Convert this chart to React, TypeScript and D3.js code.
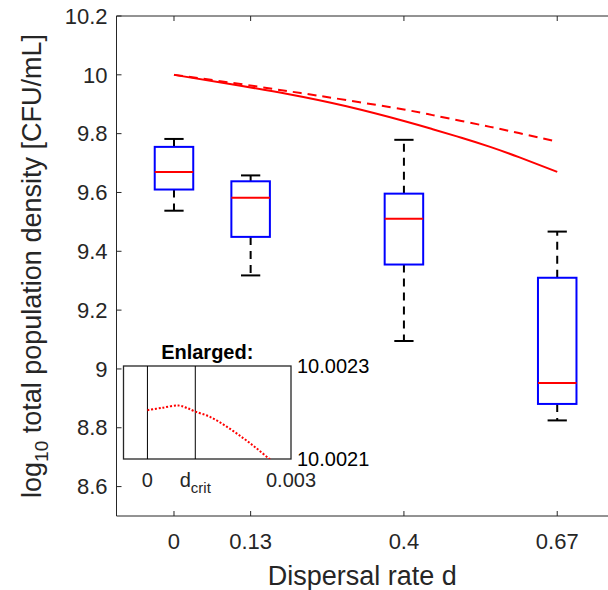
import React from "react";
import * as d3 from "d3";

// ---- data ----
const boxPositions = [0, 2 / 15, 6 / 15, 10 / 15];
const xTickLabels = ["0", "0.13", "0.4", "0.67"];
const whiskerLo = [9.538, 9.318, 9.095, 8.825];
const q1 = [9.61, 9.449, 9.355, 8.881];
const medians = [9.67, 9.582, 9.511, 8.952];
const q3 = [9.755, 9.638, 9.596, 9.31];
const whiskerHi = [9.782, 9.658, 9.779, 9.467];

const yTicks = [8.6, 8.8, 9, 9.2, 9.4, 9.6, 9.8, 10, 10.2];
const yTickLabels = ["8.6", "8.8", "9", "9.2", "9.4", "9.6", "9.8", "10", "10.2"];

const lineD = [0, 0.1, 0.2, 0.3, 0.4, 0.45, 0.5, 0.55, 0.6, 0.6667];
const solidV = [10.0, 9.968, 9.934, 9.893, 9.843, 9.815, 9.786, 9.755, 9.72, 9.67];
const dashedV = [10.0, 9.973, 9.944, 9.914, 9.882, 9.863, 9.843, 9.823, 9.802, 9.773];

const insetD = [0, 0.0003, 0.00065, 0.00082, 0.001, 0.0013, 0.00165, 0.002, 0.00228, 0.00255, 0.0027];
const insetV = [10.002205, 10.00221, 10.002215, 10.00221, 10.002202, 10.002191, 10.00217, 10.002145, 10.002123, 10.0021, 10.002088];
const insetVLines = [0, 0.001];
const insetYLabels = ["10.0023", "10.0021"];
const insetYVals = [10.0023, 10.0021];

const FONT = "'Liberation Sans', Arial, Helvetica, sans-serif";
const TXT = "#262626";

export default function App() {
  const x = d3.scaleLinear().domain([-0.1, 0.755]).range([116.5, 608]);
  const y = d3.scaleLinear().domain([8.5, 10.2]).range([516, 16]);
  const [x0, x1] = x.range();
  const [yb, yt] = y.range();

  const ix = d3.scaleLinear().domain([-0.0005, 0.003]).range([123.5, 291]);
  const iy = d3.scaleLinear().domain([10.0021, 10.0023]).range([459, 366]);

  const boxW = 0.067;
  const capW = boxW / 2;

  const line = d3
    .line<[number, number]>()
    .x((p) => x(p[0]))
    .y((p) => y(p[1]))
    .curve(d3.curveNatural);
  const iline = d3
    .line<[number, number]>()
    .x((p) => ix(p[0]))
    .y((p) => iy(p[1]))
    .curve(d3.curveCatmullRom);

  const tickLen = 5;

  return (
    <svg
      width={608}
      height={590}
      style={{ position: "absolute", left: 0, top: 0, background: "#fff" }}
      fontFamily={FONT}
    >
      <defs>
        <clipPath id="insetClip">
          <rect x={ix.range()[0]} y={iy.range()[1]} width={ix.range()[1] - ix.range()[0]} height={iy.range()[0] - iy.range()[1]} />
        </clipPath>
      </defs>
      <rect width={608} height={590} fill="#fff" />

      {/* boxes */}
      {boxPositions.map((p, i) => (
        <g key={i}>
          <line x1={x(p)} x2={x(p)} y1={y(q3[i])} y2={y(whiskerHi[i])} stroke="#000" strokeWidth={2} strokeDasharray="8,6" />
          <line x1={x(p)} x2={x(p)} y1={y(q1[i])} y2={y(whiskerLo[i])} stroke="#000" strokeWidth={2} strokeDasharray="8,6" />
          <line x1={x(p - capW / 2)} x2={x(p + capW / 2)} y1={y(whiskerHi[i])} y2={y(whiskerHi[i])} stroke="#000" strokeWidth={2} />
          <line x1={x(p - capW / 2)} x2={x(p + capW / 2)} y1={y(whiskerLo[i])} y2={y(whiskerLo[i])} stroke="#000" strokeWidth={2} />
          <rect
            x={x(p - boxW / 2)}
            y={y(q3[i])}
            width={x(p + boxW / 2) - x(p - boxW / 2)}
            height={y(q1[i]) - y(q3[i])}
            fill="none"
            stroke="#0000ff"
            strokeWidth={2}
          />
          <line x1={x(p - boxW / 2)} x2={x(p + boxW / 2)} y1={y(medians[i])} y2={y(medians[i])} stroke="#ff0000" strokeWidth={2} />
        </g>
      ))}

      {/* model lines */}
      <path d={line(lineD.map((d, i) => [d, solidV[i]]) as [number, number][]) || ""} fill="none" stroke="#ff0000" strokeWidth={2} />
      <path
        d={line(lineD.map((d, i) => [d, dashedV[i]]) as [number, number][]) || ""}
        fill="none"
        stroke="#ff0000"
        strokeWidth={2}
        strokeDasharray="9,6"
      />

      {/* main axes */}
      <g stroke={TXT} strokeWidth={1}>
        <line x1={x0} x2={x0} y1={yt} y2={yb} />
        <line x1={x0} x2={x1} y1={yb} y2={yb} />
        <line x1={x0} x2={x1} y1={yt} y2={yt} />
        {yTicks.map((t) => (
          <line key={"yt" + t} x1={x0} x2={x0 + tickLen} y1={y(t)} y2={y(t)} />
        ))}
        {boxPositions.map((p, i) => (
          <g key={"xt" + i}>
            <line x1={x(p)} x2={x(p)} y1={yb} y2={yb - tickLen} />
            <line x1={x(p)} x2={x(p)} y1={yt} y2={yt + tickLen} />
          </g>
        ))}
      </g>
      {yTicks.map((t, i) => (
        <text key={"ytl" + t} x={107.5} y={y(t)} dy="0.35em" textAnchor="end" fontSize={22} fill={TXT}>
          {yTickLabels[i]}
        </text>
      ))}
      {boxPositions.map((p, i) => (
        <text key={"xtl" + i} x={x(p)} y={549} textAnchor="middle" fontSize={22} fill={TXT}>
          {xTickLabels[i]}
        </text>
      ))}
      <text x={(x0 + x1) / 2} y={585} textAnchor="middle" fontSize={27} fill={TXT}>
        Dispersal rate d
      </text>
      <text transform={`translate(41,${(yt + yb) / 2}) rotate(-90)`} textAnchor="middle" fontSize={27} fill={TXT}>
        log
        <tspan fontSize={19} dy={7}>10</tspan>
        <tspan dy={-7}> total population density [CFU/mL]</tspan>
      </text>

      {/* inset */}
      <g>
        <rect
          x={ix.range()[0]}
          y={iy.range()[1]}
          width={ix.range()[1] - ix.range()[0]}
          height={iy.range()[0] - iy.range()[1]}
          fill="#fff"
          stroke={TXT}
          strokeWidth={1.3}
        />
        {insetVLines.map((d) => (
          <line key={"iv" + d} x1={ix(d)} x2={ix(d)} y1={iy.range()[0]} y2={iy.range()[1]} stroke="#000" strokeWidth={1} />
        ))}
        <path
          d={iline(insetD.map((d, i) => [d, insetV[i]]) as [number, number][]) || ""}
          fill="none"
          stroke="#ff0000"
          strokeWidth={2}
          strokeDasharray="2,1.8"
          clipPath="url(#insetClip)"
        />
        <text x={(ix.range()[0] + ix.range()[1]) / 2} y={359} textAnchor="middle" fontSize={20} fontWeight="bold" fill="#000">
          Enlarged:
        </text>
        {insetYVals.map((v, i) => (
          <text key={"iyl" + i} x={297} y={iy(v)} dy="0.35em" fontSize={20} fill="#000">
            {insetYLabels[i]}
          </text>
        ))}
        <text x={ix(0)} y={487} textAnchor="middle" fontSize={20} fill={TXT}>
          0
        </text>
        <text x={ix(0.001)} y={487} textAnchor="middle" fontSize={20} fill={TXT}>
          d<tspan fontSize={15} dy={6}>crit</tspan>
        </text>
        <text x={ix(0.003)} y={487} textAnchor="middle" fontSize={20} fill={TXT}>
          0.003
        </text>
      </g>
    </svg>
  );
}
